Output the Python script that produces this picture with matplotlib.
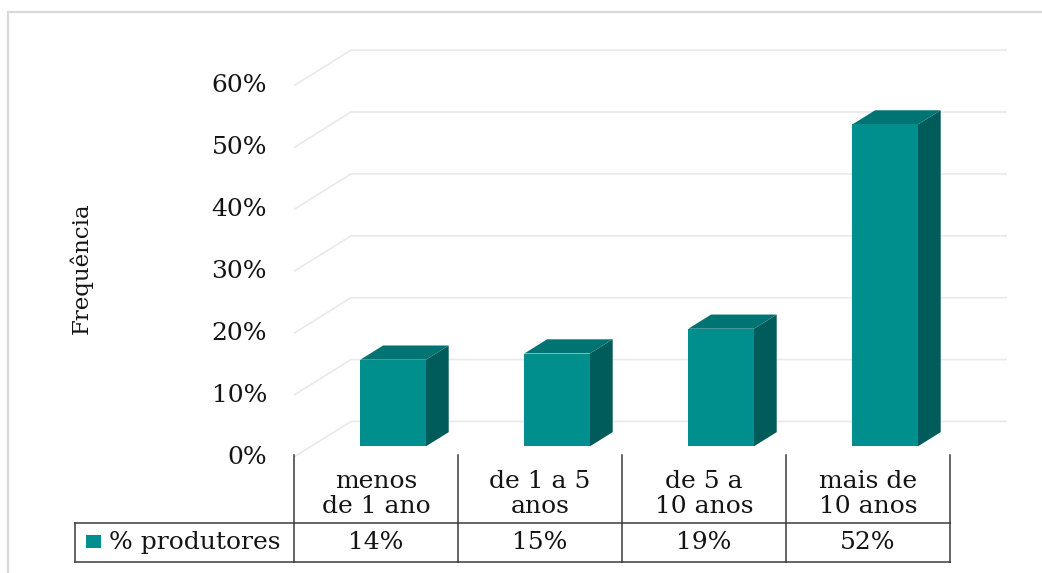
import numpy as np
import matplotlib
matplotlib.use("Agg")
import matplotlib.pyplot as plt
from matplotlib.patches import Polygon, Rectangle

# ---------------------------------------------------------
# Data
# ---------------------------------------------------------
categories = ["menos\nde 1 ano", "de 1 a 5\nanos", "de 5 a\n10 anos", "mais de\n10 anos"]
values = [14, 15, 19, 52]          # % produtores
series_name = "% produtores"
y_ticks = [0, 10, 20, 30, 40, 50, 60]
y_label = "Frequência"

# ---------------------------------------------------------
# Style / 3D geometry (depth expressed in data units)
# ---------------------------------------------------------
px_x = 164.0      # pixels per category
px_y = 6.19       # pixels per percentage point
depth_dx = 57 / px_x
depth_dy = 35.5 / px_y
bar_width = 0.40
bar_t0, bar_t1 = 0.30, 0.70   # bar front/back inside the floor depth

c_front = "#008f8c"
c_top = "#007472"
c_side = "#005c5a"
grid_c = "#e9e9e9"
line_c = "#3a3a3a"
txt_c = "#141414"

plt.rcParams["font.family"] = ["DejaVu Serif"]
fs = 18

fig = plt.figure(figsize=(10.42, 5.73), dpi=100)
ax = fig.add_axes([0, 0, 1, 1])
ax.set_xlim(-294 / px_x, (1042 - 294) / px_x)
ax.set_ylim((457 - 573) / px_y, 457 / px_y)
ax.axis("off")

# outer chart frame
fig.patches.append(Rectangle((8 / 1042, -0.1), 1.2, 1.1 - 12 / 573,
                             transform=fig.transFigure, fill=False,
                             edgecolor="#d9d9d9", linewidth=1.6))

n = len(categories)

# ---------------------------------------------------------
# Gridlines: short slant on the side wall, then across the back wall
# ---------------------------------------------------------
for v in y_ticks:
    ax.plot([0, depth_dx, n + depth_dx], [v, v + depth_dy, v + depth_dy],
            color=grid_c, lw=1.2, solid_capstyle="butt", zorder=1)
    ax.text(-0.165, v, f"{v}%", ha="right", va="center", fontsize=fs,
            color=txt_c)

ax.text(-1.30, 30.5, y_label, rotation=90, ha="center", va="center",
        fontsize=16.5, color=txt_c)

# ---------------------------------------------------------
# 3D bars
# ---------------------------------------------------------
for i, v in enumerate(values):
    x0 = i + 0.5 - bar_width / 2 + bar_t0 * depth_dx
    x1 = x0 + bar_width
    y0 = bar_t0 * depth_dy
    y1 = y0 + v
    ddx = (bar_t1 - bar_t0) * depth_dx
    ddy = (bar_t1 - bar_t0) * depth_dy
    front = [(x0, y0), (x1, y0), (x1, y1), (x0, y1)]
    side = [(x1, y0), (x1 + ddx, y0 + ddy), (x1 + ddx, y1 + ddy), (x1, y1)]
    top = [(x0, y1), (x1, y1), (x1 + ddx, y1 + ddy), (x0 + ddx, y1 + ddy)]
    ax.add_patch(Polygon(side, closed=True, facecolor=c_side, edgecolor="none", zorder=3))
    ax.add_patch(Polygon(top, closed=True, facecolor=c_top, edgecolor="none", zorder=3))
    ax.add_patch(Polygon(front, closed=True, facecolor=c_front, edgecolor="none", zorder=4))

# ---------------------------------------------------------
# Data table under the plot
# ---------------------------------------------------------
row_mid = (457 - 523) / px_y
row_bot = (457 - 562) / px_y
row_top = (457 - 455) / px_y
legend_left = (75 - 294) / px_x

for i in range(n + 1):
    ax.plot([i, i], [row_top, row_bot], color=line_c, lw=1.1, zorder=5)
ax.plot([legend_left, n], [row_mid, row_mid], color=line_c, lw=1.1, zorder=5)
ax.plot([legend_left, n], [row_bot, row_bot], color=line_c, lw=1.1, zorder=5)
ax.plot([legend_left, legend_left], [row_mid, row_bot], color=line_c, lw=1.1, zorder=5)

val_y = (row_mid + row_bot) / 2
for i, (cat, v) in enumerate(zip(categories, values)):
    ax.text(i + 0.5, (457 - 494) / px_y, cat, ha="center", va="center",
            fontsize=fs, color=txt_c, linespacing=1.1)
    ax.text(i + 0.5, val_y, f"{v}%", ha="center", va="center",
            fontsize=fs, color=txt_c)

# legend key inside the table
ax.add_patch(Rectangle(((86 - 294) / px_x, (457 - 548) / px_y), 15 / px_x, 13 / px_y,
                       facecolor=c_front, edgecolor="none", zorder=5))
ax.text((109 - 294) / px_x, val_y, series_name, ha="left", va="center",
        fontsize=fs, color=txt_c)

plt.savefig("out.png", dpi=100)
plt.close()
